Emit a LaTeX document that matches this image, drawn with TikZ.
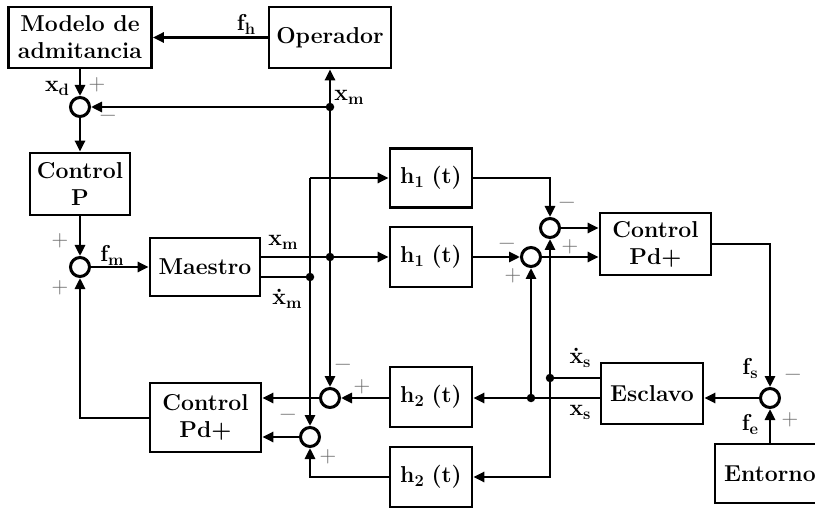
\documentclass[tikz,border=0pt]{standalone}
\usepackage{fontspec}
\usetikzlibrary{arrows.meta}
\newcommand\sbb[2]{#1\raisebox{-4pt}{\fontsize{16.5}{16.5}\selectfont #2}}
\newcommand\xdt{\ooalign{x\cr\hidewidth\raisebox{0.5em}{.}\hidewidth\cr}}
\begin{document}
\begin{tikzpicture}[x=1pt,y=-1pt,
  line width=2.7pt,
  >={Triangle[length=11pt,width=10pt]},
  blk/.style={draw,line width=2.7pt,font=\fontsize{23}{27}\selectfont\bfseries,align=center,inner sep=0pt},
  sumc/.style={draw,circle,line width=3pt,minimum size=19pt,inner sep=0pt},
  sg/.style={text=black!60,font=\fontsize{23}{24}\selectfont,inner sep=0pt},
  lbl/.style={font=\fontsize{23}{24}\selectfont\bfseries,inner sep=0pt},
  dot/.style={circle,fill=black,inner sep=0pt,minimum size=8.5pt}]
\clip (0,0) rectangle (815,508);
% blocks
\node[blk,minimum width=143pt,minimum height=61pt] (modelo) at (80,37.5) {Modelo de\\admitancia};
\node[blk,minimum width=122pt,minimum height=61pt] (operador) at (330,37.5) {Operador};
\node[blk,minimum width=100pt,minimum height=62pt] (controlP) at (80,184) {Control\\P};
\node[blk,minimum width=110pt,minimum height=58pt] (maestro) at (205,267) {Maestro};
\node[blk,minimum width=82pt,minimum height=59pt] (h1a) at (431,178) {\sbb{h}{1}\,\,(t)};
\node[blk,minimum width=82pt,minimum height=60pt] (h1b) at (431,257) {\sbb{h}{1}\,\,(t)};
\node[blk,minimum width=111pt,minimum height=62pt] (controlR) at (655.5,244) {Control\\Pd+};
\node[blk,minimum width=102pt,minimum height=61pt] (esclavo) at (652,393.5) {Esclavo};
\node[blk,minimum width=82pt,minimum height=60pt] (h2a) at (431,397) {\sbb{h}{2}\,\,(t)};
\node[blk,minimum width=82pt,minimum height=60pt] (h2b) at (431,477) {\sbb{h}{2}\,\,(t)};
\node[blk,minimum width=111pt,minimum height=69pt] (controlL) at (205.5,417.5) {Control\\Pd+};
\node[blk,minimum width=110pt,minimum height=59pt] (entorno) at (770,473.5) {Entorno};
% sums
\node[sumc] (s1) at (80,107) {};
\node[sumc] (s2) at (80,267) {};
\node[sumc] (s3) at (550,228) {};
\node[sumc] (s4) at (531,257) {};
\node[sumc] (s5) at (770,398) {};
\node[sumc] (s6) at (330,398) {};
\node[sumc] (s7) at (310,437) {};
% junctions
\node[dot] (d1) at (330,107) {};
\node[dot] (d2) at (330,257) {};
\node[dot] (d3) at (310,277) {};
\node[dot] (d4) at (550,378) {};
\node[dot] (d5) at (531,398) {};
\coordinate (c1) at (310,178);
\coordinate (c2) at (550,178);
\coordinate (c3) at (770,244);
\coordinate (c4) at (550,477);
\coordinate (c5) at (310,477);
\coordinate (c6) at (80,418);
% connectors
\draw[->] (operador) -- (modelo);
\draw[->] (modelo) -- (s1);
\draw[->] (d1.center) -- (s1);
\draw[->] (s1) -- (controlP);
\draw[->] (controlP) -- (s2);
\draw[->] (s2) -- (maestro);
\draw[->] (maestro.east |- d2) -- (h1b.west |- d2);
\draw (maestro.east |- d3) -- (d3.center);
\draw[->] (d2.center) -- (operador.south);
\draw[->] (d2.center) -- (s6);
\draw[->] (c1) -- (s7);
\draw[->] (c1) -- (h1a.west |- c1);
\draw[->] (h1a.east |- c1) -- (c2) -- (s3);
\draw[->] (h1b) -- (s4);
\draw[->] (s3) -- (controlR.west |- s3);
\draw[->] (s4) -- (controlR.west |- s4);
\draw[->] (controlR.east |- c3) -- (c3) -- (s5);
\draw[->] (entorno.north -| s5) -- (s5);
\draw[->] (s5) -- (esclavo.east |- s5);
\draw (esclavo.west |- d4) -- (d4.center);
\draw[->] (d4.center) -- (s3);
\draw[->] (d4.center) -- (c4) -- (h2b.east |- c4);
\draw[->] (esclavo.west |- d5) -- (h2a.east |- d5);
\draw[->] (d5.center) -- (s4);
\draw[->] (h2a.west |- s6) -- (s6);
\draw[->] (s6) -- (controlL.east |- s6);
\draw[->] (s7) -- (controlL.east |- s7);
\draw[->] (h2b.west |- c5) -- (c5) -- (s7);
\draw[->] (controlL.west |- c6) -- (c6) -- (s2);
% labels
\node[lbl] (lfh) at (246,24) {\sbb{f}{h}};
\node[lbl] (lxd) at (57,88) {\sbb{x}{d}};
\node[lbl] (lxm1) at (349,97) {\sbb{x}{m}};
\node[lbl] (lfm) at (112,255) {\sbb{f}{m}};
\node[lbl] (lxm2) at (283,242) {\sbb{x}{m}};
\node[lbl] (ldxm) at (287,301) {\sbb{\xdt}{m}};
\node[lbl] (ldxs) at (580,360) {\sbb{\xdt}{s}};
\node[lbl] (lxs) at (580,412) {\sbb{x}{s}};
\node[lbl] (lfs) at (750,368) {\sbb{f}{s}};
\node[lbl] (lfe) at (750,424) {\sbb{f}{e}};
% signs
\node[sg] (p1) at (97,85) {+};
\node[sg] (m1) at (108,118) {−};
\node[sg] (p2a) at (60,241) {+};
\node[sg] (p2b) at (60,288) {+};
\node[sg] (m3) at (567,205) {−};
\node[sg] (p3) at (570,247) {+};
\node[sg] (m4) at (507,246) {−};
\node[sg] (p4) at (513,276) {+};
\node[sg] (m6) at (343,367) {−};
\node[sg] (p6) at (362,387) {+};
\node[sg] (m7) at (288,417) {−};
\node[sg] (p7) at (328,457) {+};
\node[sg] (m5) at (793,377) {−};
\node[sg] (p5) at (790,420) {+};
\end{tikzpicture}
\end{document}
